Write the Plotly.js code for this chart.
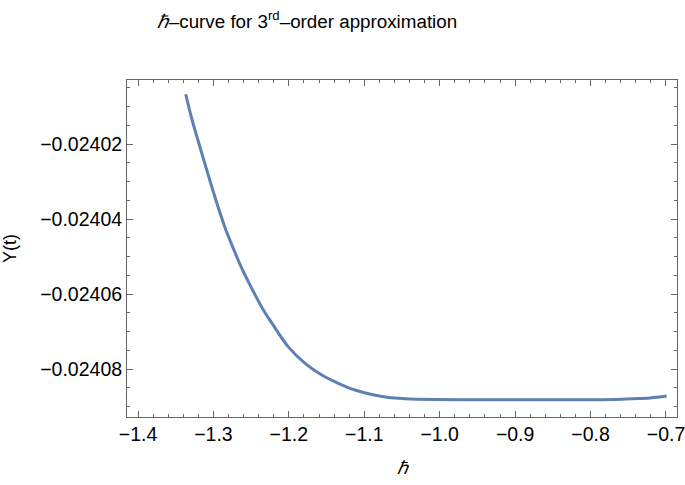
<!DOCTYPE html>
<html>
<head>
<meta charset="utf-8">
<script src="https://cdn.plot.ly/plotly-3.0.1.min.js"></script>
<style>html,body{margin:0;padding:0;background:#fff;}#chart{width:685px;height:485px;}</style>
</head>
<body>
<div id="chart"></div>
<script>
const hbar = [-1.3367, -1.3289, -1.3202, -1.3111, -1.3023, -1.2936, -1.2846, -1.2737, -1.2625, -1.2492, -1.2340, -1.2227, -1.2007, -1.1785, -1.1564, -1.1344, -1.1122, -1.0901, -1.0680, -1.0459, -1.0061, -0.9500, -0.9000, -0.8500, -0.8000, -0.7700, -0.7450, -0.7210, -0.6990];
const Yt = [-0.0240067, -0.0240131, -0.0240192, -0.0240254, -0.0240313, -0.0240369, -0.0240423, -0.0240478, -0.0240531, -0.0240585, -0.0240642, -0.0240677, -0.0240741, -0.0240785, -0.0240816, -0.0240838, -0.0240856, -0.0240868, -0.0240876, -0.0240879, -0.0240881, -0.0240882, -0.0240882, -0.0240882, -0.0240882, -0.0240881, -0.0240879, -0.0240877, -0.0240872];
const xTicks = [-1.4, -1.3, -1.2, -1.1, -1.0, -0.9, -0.8, -0.7];
const xTickText = ["−1.4", "−1.3", "−1.2", "−1.1", "−1.0", "−0.9", "−0.8", "−0.7"];
const yTicks = [-0.02402, -0.02404, -0.02406, -0.02408];
const yTickText = ["−0.02402", "−0.02404", "−0.02406", "−0.02408"];

const font = "Liberation Sans, Arial, sans-serif";
const axisCommon = {
  showgrid: false, zeroline: false, showline: true, linecolor: "#666", linewidth: 1,
  mirror: "ticks", ticks: "inside", ticklen: 6, tickcolor: "#666", tickwidth: 1,
  tickfont: {family: font, size: 19.5, color: "#000"}, tickmode: "array",
  ticklabeloverflow: "allow"
};
const trace = {
  x: hbar, y: Yt, type: "scatter", mode: "lines",
  line: {color: "#5E81B5", width: 3, shape: "spline", smoothing: 1},
  hoverinfo: "skip"
};
const layout = {
  width: 685, height: 485,
  margin: {l: 127, r: 8, t: 80, b: 68},
  paper_bgcolor: "#fff", plot_bgcolor: "#fff",
  showlegend: false,
  title: {
    text: "<i>ℏ</i>–curve for 3<sup>rd</sup>–order approximation",
    font: {family: font, size: 18.8, color: "#000"},
    x: 307/685, xanchor: "center", xref: "container",
    y: 1 - 21/485, yanchor: "middle", yref: "container"
  },
  xaxis: Object.assign({}, axisCommon, {
    range: [-1.4146, -0.6854], tickvals: xTicks, ticktext: xTickText,
    minor: {dtick: 0.02, tick0: -1.4, ticks: "inside", ticklen: 3, tickcolor: "#666", tickwidth: 1},
    title: {text: "<i>ℏ</i>", font: {family: font, size: 18, color: "#000"}, standoff: 16}
  }),
  yaxis: Object.assign({}, axisCommon, {
    range: [-0.0240928, -0.0240029], tickvals: yTicks, ticktext: yTickText,
    minor: {dtick: 0.000005, tick0: -0.02408, ticks: "inside", ticklen: 3, tickcolor: "#666", tickwidth: 1},
    title: {text: "Y(t)", font: {family: font, size: 18, color: "#000"}, standoff: 18}
  })
};
Plotly.newPlot("chart", [trace], layout, {displayModeBar: false, staticPlot: true});
</script>
</body>
</html>
